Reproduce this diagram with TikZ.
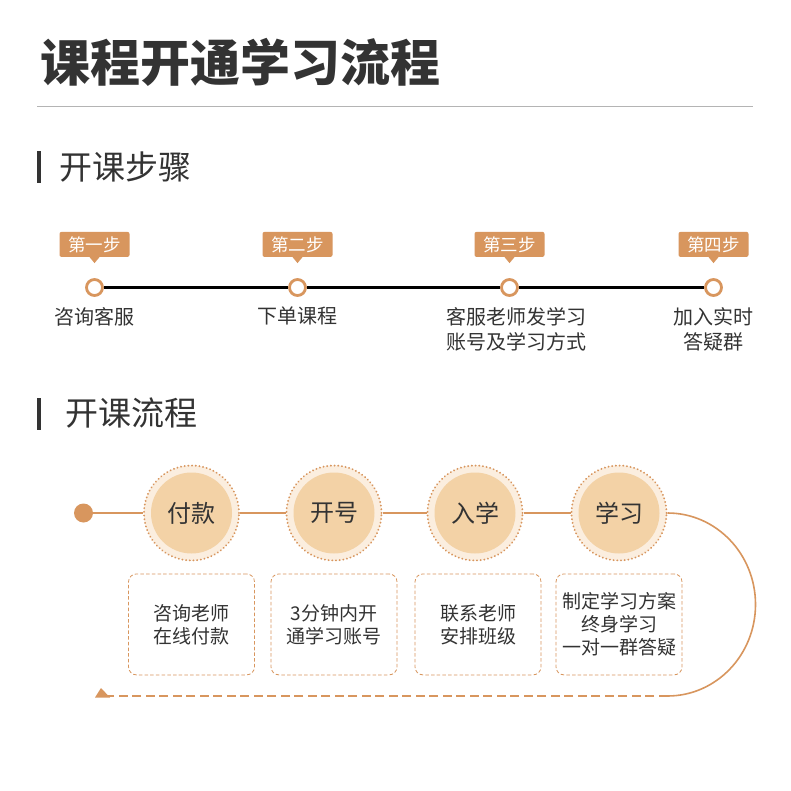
\documentclass[tikz,border=0pt]{standalone}
\usepackage{fontspec}
\setmainfont{Noto Sans CJK SC}
\newfontfamily\cjk{Noto Sans CJK SC}
\usepackage{xcolor}
\definecolor{cOr}{HTML}{D8965E}
\definecolor{cPeach}{HTML}{F3D2A6}
\definecolor{cPale}{HTML}{FBEEDF}
\definecolor{ink}{HTML}{333333}
\definecolor{rule}{HTML}{B4B4B4}
\usetikzlibrary{positioning}
\newcommand{\fs}[2]{\fontsize{#1}{#2}\selectfont}

\begin{document}
\begin{tikzpicture}[x=1pt, y=-1pt, every node/.style={font=\cjk, text=ink},
   hd/.style={anchor=west, inner sep=0pt, font=\cjk\fs{33}{33}},
   tag/.style={fill=cOr, rounded corners=2pt, text=white, font=\cjk\fs{17.5}{17.5}, minimum width=70pt, minimum height=25pt, inner sep=0pt},
   stepdot/.style={circle, draw=cOr, line width=2.8pt, fill=white, minimum size=16pt, inner sep=0pt},
   lbl/.style={align=center, inner sep=0pt, font=\cjk\fs{20}{25}},
   stage/.style={circle, draw=cOr, line width=2pt, dash pattern=on 0.1pt off 3.6pt, line cap=round, fill=cPale, minimum size=95pt, inner sep=0pt, font=\cjk\fs{24}{24},
      path picture={\fill[cPeach] (path picture bounding box.center) circle (40.5pt);}},
   card/.style={draw=cOr, line width=0.8pt, dash pattern=on 3.5pt off 2.2pt, rounded corners=8pt, minimum width=126pt, minimum height=101pt, align=center, font=\cjk\fs{19}{23}},
   flow/.style={draw=cOr, line width=1.6pt}]
  \useasboundingbox[fill=white] (0,0) rectangle (790,791);

  % title
  \node[anchor=west, inner sep=0pt, font=\cjk\bfseries\fs{50}{50}] (title) at (40,62) {课程开通学习流程};
  \draw[rule, line width=1pt] (37,107) -- (753,107);

  % 开课步骤
  \fill[ink] (37,151) rectangle (41,183);
  \node[hd] (h1) at (59,167) {开课步骤};
  \foreach \i/\x/\t in {1/94.5/第一步, 2/297.5/第二步, 3/509.5/第三步, 4/713.5/第四步} {
    \node[stepdot] (s\i) at (\x,287.5) {};
    \node[tag, above=21pt of s\i] (t\i) {\t};
    \fill[cOr] ([xshift=-5pt]t\i.south) -- ([yshift=-6pt]t\i.south) -- ([xshift=5pt]t\i.south) -- cycle;
  }
  \foreach \i/\j in {1/2, 2/3, 3/4} \draw[black, line width=2.2pt] (s\i) -- (s\j);
  \node[lbl, below=10pt of s1] (l1) {咨询客服};
  \node[lbl, below=10pt of s2] (l2) {下单课程};
  \node[lbl, below=10pt of s3, xshift=7pt] (l3) {客服老师发学习\\账号及学习方式};
  \node[lbl, below=10pt of s4] (l4) {加入实时\\答疑群};

  % 开课流程
  \fill[ink] (37,398) rectangle (41,430);
  \node[hd] (h2) at (65,413) {开课流程};
  \node[circle, fill=cOr, minimum size=19pt, inner sep=0pt] (d0) at (83.5,513) {};
  \node[stage] (c1) at (191.5,513) {付款};
  \node[stage] (c2) at (334,513) {开号};
  \node[stage] (c3) at (475,513) {入学};
  \node[stage] (c4) at (619,513) {学习};
  \foreach \i/\j in {d0/c1, c1/c2, c2/c3, c3/c4} \draw[flow] (\i) -- (\j);

  \node[card, below=12pt of c1] (b1) {咨询老师\\在线付款};
  \node[card, below=12pt of c2] (b2) {3分钟内开\\通学习账号};
  \node[card, below=12pt of c3, xshift=3pt] (b3) {联系老师\\安排班级};
  \node[card, below=12pt of c4] (b4) {制定学习方案\\终身学习\\一对一群答疑};

  % return path
  \coordinate (back) at (101,696);
  \draw[flow] (c4.east) arc[start angle=-90, end angle=90, x radius=88, y radius=91.5] coordinate (turn);
  \draw[flow, dash pattern=on 9pt off 4.5pt] (turn) -- (back);
  \fill[cOr] ([xshift=-6pt,yshift=-1.5pt]back) -- ([yshift=8pt]back) -- ([xshift=9pt,yshift=-1.5pt]back) -- cycle;
\end{tikzpicture}
\end{document}
